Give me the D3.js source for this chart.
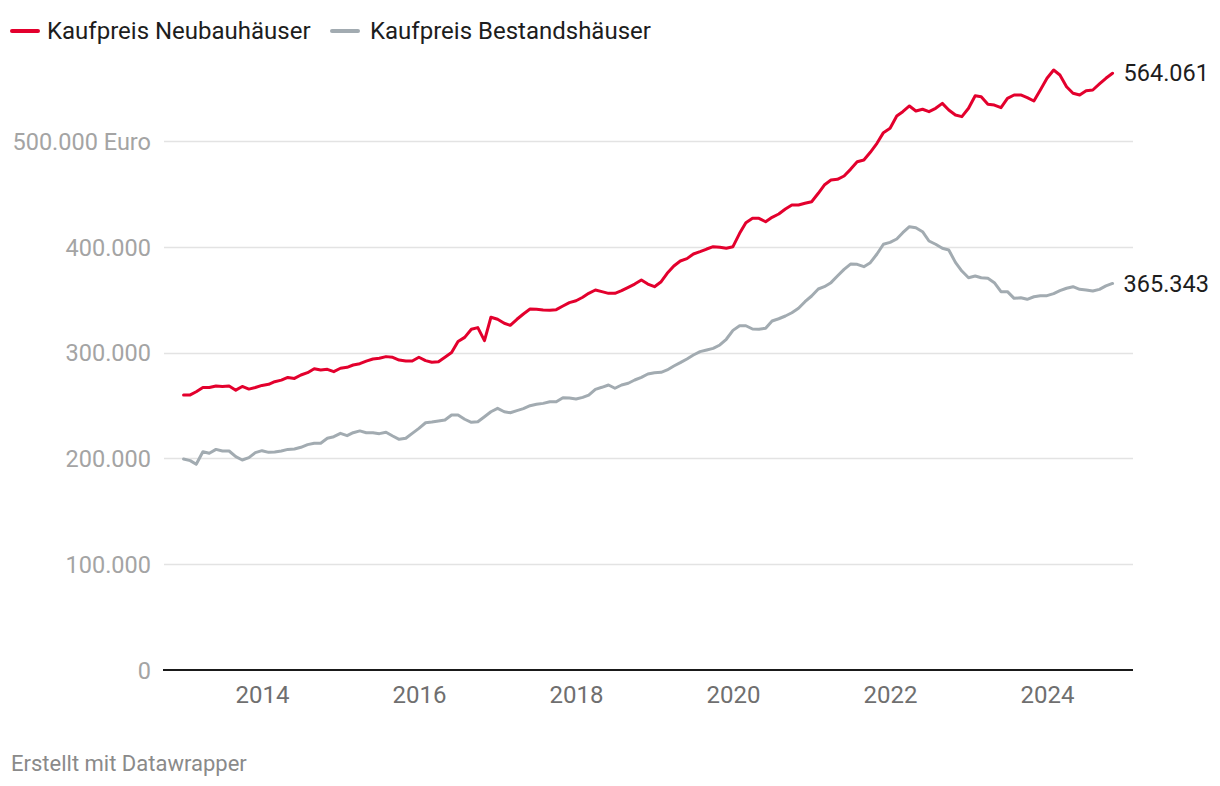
<!DOCTYPE html>
<html>
<head>
<meta charset="utf-8">
<script src="https://cdn.jsdelivr.net/npm/d3@7"></script>
<style>
  html, body { margin: 0; padding: 0; background: #fff; }
  svg { display: block; font-family: Roboto, "Noto Sans", sans-serif; }
</style>
</head>
<body>
<svg id="chart" width="1220" height="786"></svg>
<script>
// ---- data (thousand Euro, monthly Jan 2013 – Nov 2024) ----
const startYear = 2013;
const seriesNames = ["Kaufpreis Neubauhäuser", "Kaufpreis Bestandshäuser"];
const neubau = [
  260, 260, 263, 267, 267, 268.5, 268, 268.5, 264.5, 268, 265.5, 267,
  269, 270, 272.5, 274, 276.5, 275.6, 278.8, 281, 284.8, 283.6, 284.2, 282,
  285.2, 286.1, 288.3, 289.5, 292, 294, 294.6, 296.2, 295.6, 293, 292, 292,
  295.6, 292.4, 290.9, 291.4, 295.6, 300, 310.5, 314.4, 322, 323.6, 311.3, 333.4,
  331.5, 327.7, 325.8, 331.5, 336.5, 341.2, 341, 340.3, 340, 340.6, 344, 347.2,
  349, 352.3, 356, 359.2, 357.6, 356, 356, 358.5, 361.7, 364.8, 368.6, 364.8,
  362.3, 367, 374.9, 381.9, 386.6, 388.8, 393.2, 395.4, 397.9, 400.1, 399.5, 398.6,
  400.1, 412.7, 422.8, 426.9, 426.9, 423.7, 427.9, 431, 435.7, 439.5, 439.5, 441.1,
  442.6, 450.6, 458.4, 463.1, 463.8, 466.9, 473.2, 480.4, 482, 489.3, 497.8, 507.9,
  512, 523.6, 527.7, 533.1, 528.4, 530, 527.7, 530.9, 535.6, 529.3, 524.6, 523,
  530.9, 542.8, 541.9, 534.7, 534, 531.5, 540.3, 543.5, 543.5, 541, 537.8, 548.2,
  559.3, 567.1, 562.4, 551.3, 545.1, 543.5, 547.6, 548.2, 553.9, 559.3, 564.061
];
const bestand = [
  199.4, 197.9, 194.4, 206.3, 204.8, 208.5, 207, 207, 201.6, 198.5, 200.7, 205.4,
  207.3, 205.7, 206, 207, 208.5, 208.9, 210.5, 213, 214.3, 214.3, 219, 220.5,
  223.7, 221.5, 224.3, 226, 224.3, 224.3, 223.4, 224.7, 221.2, 218, 219, 223.7,
  228.4, 233.7, 234.4, 235.3, 236.3, 241, 241, 237, 234.1, 234.7, 239.4, 244.1,
  247.3, 244.1, 243.2, 245.1, 247, 249.8, 251.1, 252, 253.5, 253.6, 257.4, 257.1,
  256.1, 257.7, 259.9, 265.3, 267.2, 269.4, 266.3, 269.4, 271, 274.1, 276.6, 279.8,
  281, 281.4, 283.6, 287.3, 290.5, 294, 297.7, 300.9, 302.5, 304, 307.2, 312.6,
  321, 325.4, 325.4, 322.3, 322, 323, 329.9, 332, 334.6, 337.7, 341.9, 348.1,
  353.5, 360.1, 362.3, 366.1, 372.4, 378.7, 383.7, 383.4, 381.2, 385, 393.2, 402.4,
  404.2, 407.4, 413.3, 419, 418, 414.3, 405.5, 402.4, 398.6, 397, 385.3, 377.1,
  370.8, 372.4, 370.8, 370.2, 366.1, 357.6, 357.6, 351.3, 351.9, 350.4, 352.8, 353.8,
  353.8, 355.7, 358.5, 360.8, 362.3, 359.8, 359.2, 358.2, 359.8, 363, 365.343
];
const yTicks = [0, 100000, 200000, 300000, 400000, 500000];
const yTickLabels = ["0", "100.000", "200.000", "300.000", "400.000", "500.000 Euro"];
const xTickYears = [2014, 2016, 2018, 2020, 2022, 2024];
const endLabels = ["564.061", "365.343"];
const colors = ["#e3002d", "#a2abb1"];
const footer = "Erstellt mit Datawrapper";

// ---- build ----
const svg = d3.select("#chart");
const dates = neubau.map((_, i) => new Date(startYear, i, 1));
const series = [neubau, bestand].map((vals, s) => ({
  name: seriesNames[s], color: colors[s], label: endLabels[s],
  points: vals.map((v, i) => ({ date: dates[i], value: v * 1000 }))
}));

const x = d3.scaleTime()
  .domain([new Date(2014, 0, 1), new Date(2024, 0, 1)])
  .range([262, 1047]);
const y = d3.scaleLinear().domain([0, 500000]).range([670, 141]);

const plotLeft = 164, plotRight = 1133;

// gridlines
svg.append("g").selectAll("line")
  .data(yTicks.filter(d => d > 0))
  .join("line")
  .attr("x1", plotLeft).attr("x2", plotRight)
  .attr("y1", d => Math.round(y(d)) + 0.5).attr("y2", d => Math.round(y(d)) + 0.5)
  .attr("stroke", "#e3e3e3").attr("stroke-width", 1.5);

// y axis labels
const yAxis = d3.axisLeft(y).tickValues(yTicks)
  .tickFormat((d, i) => yTickLabels[i]).tickSize(0).tickPadding(0);
const gy = svg.append("g").attr("transform", "translate(151,0)").call(yAxis);
gy.select(".domain").remove();
gy.selectAll("text").attr("font-size", 23.5).attr("fill", "#a4a4a4")
  .attr("font-family", "Roboto").attr("dy", "0.35em");

// x axis
const xAxis = d3.axisBottom(x).tickValues(xTickYears.map(yv => new Date(yv, 0, 1)))
  .tickFormat(d3.timeFormat("%Y")).tickSize(0).tickPadding(0);
const gx = svg.append("g").attr("transform", "translate(0,695)").call(xAxis);
gx.select(".domain").remove();
gx.selectAll("text").attr("font-size", 24).attr("fill", "#6f6f6f")
  .attr("font-family", "Roboto").attr("dy", "0.35em");

// baseline
svg.append("line").attr("x1", plotLeft - 1).attr("x2", plotRight)
  .attr("y1", y(0)).attr("y2", y(0))
  .attr("stroke", "#1a1a1a").attr("stroke-width", 2);

// lines
const line = d3.line().x(d => x(d.date)).y(d => y(d.value));
svg.append("g").selectAll("path")
  .data(series.slice().reverse())
  .join("path")
  .attr("d", d => line(d.points))
  .attr("fill", "none")
  .attr("stroke", d => d.color)
  .attr("stroke-width", 3)
  .attr("stroke-linejoin", "round")
  .attr("stroke-linecap", "round");

// end labels
svg.append("g").selectAll("text")
  .data(series)
  .join("text")
  .attr("x", d => x(d.points[d.points.length - 1].date) + 11)
  .attr("y", d => y(d.points[d.points.length - 1].value))
  .attr("dy", "0.35em")
  .attr("font-size", 23.5).attr("fill", "#1d1d1d")
  .text(d => d.label);

// legend
const legendX = [12, 332];
const lg = svg.append("g").selectAll("g").data(series).join("g")
  .attr("transform", (d, i) => `translate(${legendX[i]},31)`);
lg.append("line").attr("x1", 0).attr("x2", 26).attr("y1", 0).attr("y2", 0)
  .attr("stroke", d => d.color).attr("stroke-width", 4).attr("stroke-linecap", "round");
lg.append("text").attr("x", (d, i) => i === 0 ? 35 : 38).attr("dy", "0.35em")
  .attr("font-size", 24).attr("fill", "#1d1d1d").text(d => d.name);

// footer
svg.append("text").attr("x", 11).attr("y", 763).attr("dy", "0.35em")
  .attr("font-size", 22).attr("fill", "#8a8a8a").text(footer);
</script>
</body>
</html>
